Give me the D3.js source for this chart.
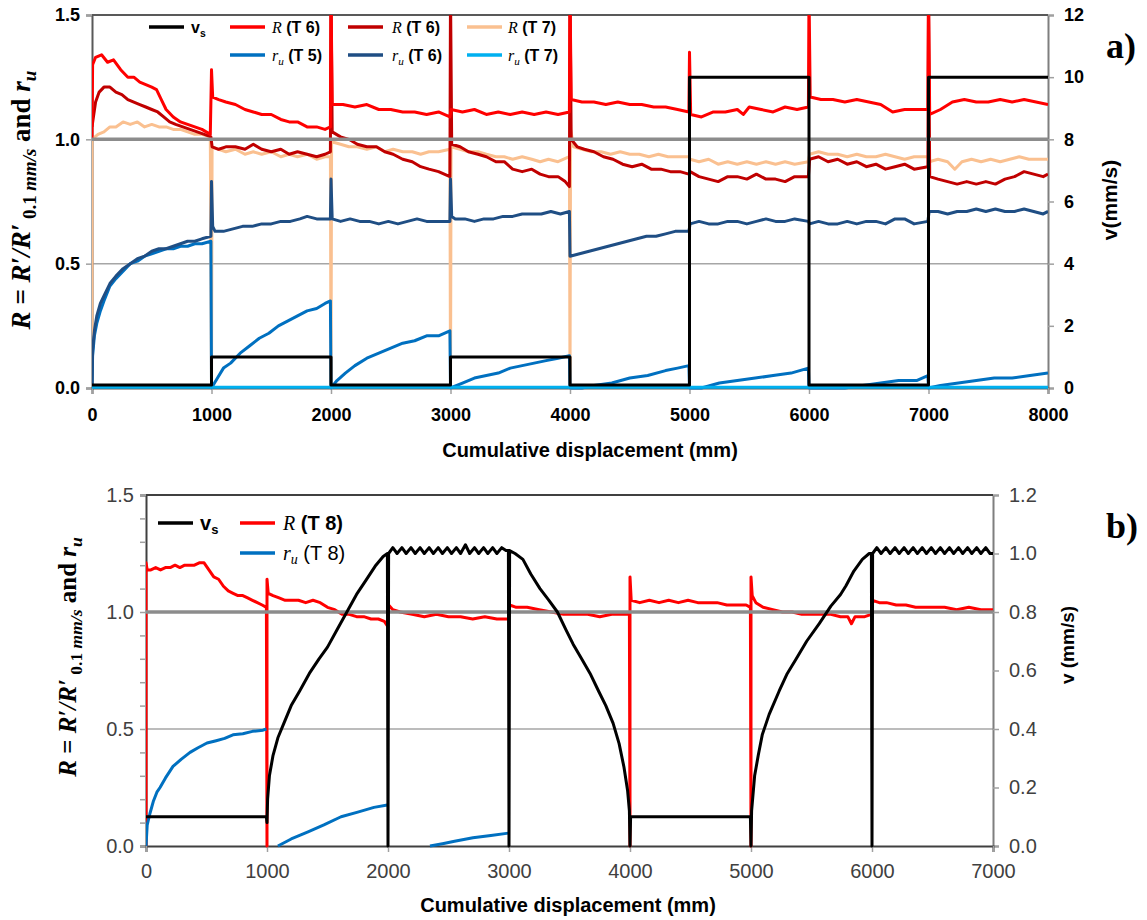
<!DOCTYPE html>
<html>
<head>
<meta charset="utf-8">
<script src="https://cdn.jsdelivr.net/npm/d3@7"></script>
<style>
  body { margin: 0; background: #fff; }
  svg { display: block; }
</style>
</head>
<body>
<svg id="chart" width="1147" height="920"></svg>
<script>
// ---------- panel a) data : [cumulative displacement (mm), value] ----------
const vsA = [[0,0.1],[1000,0.1],[1000,1],[2000,1],[2000,0.1],[3000,0.1],[3000,1],[4000,1],[4000,0.1],
  [5000,0.1],[5000,10],[6000,10],[6000,0.1],[7000,0.1],[7000,10],[8000,10]];

const rT6aA = [[0,1.0],[5,1.30],[30,1.33],[80,1.34],[130,1.31],[180,1.32],[240,1.28],[300,1.25],[350,1.25],[400,1.23],
  [450,1.22],[500,1.21],[540,1.20],[580,1.16],[620,1.12],[680,1.09],[740,1.07],[800,1.06],[860,1.05],[920,1.04],[990,1.02],
  [1000,1.28],[1010,1.17],[1060,1.16],[1120,1.15],[1200,1.14],[1280,1.12],[1350,1.11],[1420,1.10],[1500,1.10],[1580,1.08],
  [1650,1.07],[1720,1.07],[1800,1.05],[1880,1.05],[1950,1.04],[1995,1.05],
  [2000,1.6],[2010,1.14],[2100,1.14],[2200,1.13],[2300,1.14],[2400,1.12],[2500,1.12],[2600,1.11],[2700,1.11],[2800,1.10],[2900,1.11],[2995,1.09],
  [3005,1.12],[3100,1.11],[3200,1.12],[3300,1.10],[3400,1.11],[3500,1.10],[3600,1.11],[3700,1.10],[3800,1.11],[3900,1.10],[3995,1.11],
  [4000,1.6],[4010,1.16],[4100,1.15],[4200,1.15],[4300,1.14],[4400,1.15],[4500,1.14],[4600,1.14],[4700,1.13],[4800,1.13],[4900,1.12],[4995,1.11],
  [5000,1.35],[5010,1.10],[5100,1.09],[5200,1.11],[5300,1.11],[5400,1.12],[5450,1.10],[5500,1.13],[5600,1.12],[5700,1.11],[5800,1.13],[5900,1.12],[5995,1.13],
  [6000,1.6],[6010,1.17],[6100,1.16],[6200,1.16],[6300,1.15],[6400,1.16],[6500,1.15],[6600,1.14],[6700,1.11],[6800,1.12],[6900,1.12],[6995,1.12],
  [7000,1.6],[7010,1.10],[7100,1.12],[7200,1.15],[7300,1.16],[7400,1.15],[7500,1.15],[7600,1.16],[7700,1.15],[7800,1.16],[7900,1.15],[8000,1.14]];

const rT6bA = [[0,1.05],[30,1.15],[60,1.19],[100,1.21],[150,1.21],[200,1.19],[250,1.18],[300,1.16],[350,1.15],[400,1.14],[450,1.13],
  [500,1.12],[550,1.11],[600,1.09],[650,1.07],[700,1.06],[760,1.05],[820,1.04],[880,1.03],[940,1.02],[995,1.01],
  [1005,0.97],[1060,0.96],[1120,0.97],[1200,0.97],[1280,0.96],[1350,0.98],[1420,0.96],[1500,0.95],[1580,0.96],[1650,0.94],
  [1720,0.95],[1800,0.94],[1880,0.93],[1950,0.94],[1995,0.95],
  [2000,1.6],[2010,1.03],[2080,1.01],[2150,1.00],[2220,0.98],[2300,0.97],[2380,0.97],[2450,0.95],[2520,0.94],[2600,0.92],
  [2680,0.91],[2750,0.89],[2820,0.88],[2900,0.87],[2995,0.85],
  [3000,1.6],[3010,0.98],[3080,0.97],[3150,0.95],[3230,0.94],[3300,0.93],[3380,0.91],[3450,0.91],[3520,0.88],[3600,0.87],
  [3680,0.88],[3750,0.86],[3820,0.85],[3900,0.85],[3960,0.83],[3995,0.81],
  [4000,1.6],[4010,1.00],[4060,0.97],[4120,0.96],[4200,0.95],[4280,0.93],[4360,0.92],[4440,0.90],[4520,0.89],[4600,0.90],
  [4680,0.88],[4760,0.88],[4840,0.87],[4920,0.87],[4995,0.86],
  [5005,0.87],[5080,0.85],[5160,0.84],[5240,0.83],[5320,0.85],[5400,0.85],[5480,0.84],[5560,0.86],[5640,0.84],[5720,0.84],
  [5800,0.83],[5880,0.85],[5995,0.85],
  [6005,0.92],[6080,0.93],[6160,0.91],[6240,0.92],[6320,0.90],[6400,0.91],[6480,0.89],[6560,0.90],[6640,0.88],[6720,0.89],
  [6800,0.90],[6880,0.88],[6995,0.89],
  [7000,1.6],[7010,0.85],[7080,0.84],[7160,0.83],[7240,0.82],[7320,0.83],[7400,0.82],[7480,0.83],[7560,0.82],[7640,0.84],
  [7720,0.85],[7800,0.87],[7880,0.86],[7960,0.85],[8000,0.86]];

const rT7A = [[0,0],[0,1.00],[50,1.02],[100,1.03],[150,1.05],[200,1.05],[260,1.07],[320,1.06],[380,1.07],[440,1.05],[500,1.06],
  [560,1.05],[620,1.05],[680,1.04],[740,1.04],[800,1.03],[860,1.02],[920,1.02],[990,1.01],
  [1000,0],[1005,0.97],[1060,0.96],[1120,0.95],[1200,0.96],[1280,0.94],[1350,0.95],[1420,0.94],[1500,0.95],[1580,0.93],
  [1650,0.94],[1720,0.93],[1800,0.94],[1880,0.92],[1950,0.93],[1995,0.93],
  [2000,0],[2005,0.99],[2080,0.98],[2150,0.97],[2220,0.97],[2300,0.96],[2380,0.97],[2450,0.95],[2520,0.96],[2600,0.95],
  [2680,0.95],[2750,0.94],[2820,0.95],[2900,0.95],[2995,0.96],
  [3000,0],[3005,0.97],[3080,0.96],[3150,0.95],[3230,0.95],[3300,0.94],[3380,0.93],[3450,0.93],[3520,0.92],[3600,0.93],
  [3680,0.92],[3750,0.91],[3820,0.92],[3900,0.91],[3995,0.93],
  [4000,0],[4005,1.04],[4030,0.97],[4100,0.96],[4180,0.95],[4260,0.95],[4340,0.94],[4420,0.95],[4500,0.94],[4580,0.94],
  [4660,0.93],[4740,0.94],[4820,0.93],[4900,0.93],[4995,0.93],
  [5005,0.92],[5080,0.91],[5160,0.92],[5240,0.90],[5320,0.91],[5400,0.90],[5480,0.91],[5560,0.90],[5640,0.91],[5720,0.90],
  [5800,0.91],[5880,0.90],[5995,0.91],
  [6005,0.94],[6080,0.95],[6160,0.94],[6240,0.94],[6320,0.93],[6400,0.94],[6480,0.93],[6560,0.93],[6640,0.94],[6720,0.93],
  [6800,0.92],[6880,0.93],[6995,0.93],
  [7005,0.91],[7080,0.92],[7160,0.91],[7220,0.88],[7280,0.91],[7360,0.92],[7440,0.91],[7520,0.92],[7600,0.91],[7680,0.92],
  [7760,0.93],[7840,0.92],[7920,0.92],[8000,0.92]];

const ruT5A = [[0,0],[5,0.13],[20,0.21],[40,0.26],[70,0.31],[100,0.35],[150,0.41],[200,0.44],[260,0.47],[320,0.50],[380,0.51],
  [440,0.53],[500,0.54],[560,0.55],[620,0.56],[680,0.56],[740,0.57],[800,0.57],[860,0.58],[920,0.58],[995,0.59],
  [1000,0],[1050,0.04],[1100,0.08],[1160,0.10],[1240,0.14],[1320,0.17],[1400,0.20],[1480,0.22],[1560,0.25],[1640,0.27],
  [1720,0.29],[1800,0.31],[1880,0.32],[1950,0.34],[1995,0.35],
  [2000,0],[2050,0.03],[2120,0.06],[2200,0.09],[2300,0.12],[2400,0.14],[2500,0.16],[2600,0.18],[2700,0.19],[2800,0.21],[2900,0.21],[2995,0.23],
  [3000,0],[3100,0.02],[3200,0.04],[3300,0.05],[3400,0.06],[3500,0.08],[3600,0.09],[3700,0.10],[3800,0.11],[3900,0.12],[3995,0.13],
  [4000,0],[4100,0.00],[4200,0.01],[4350,0.02],[4500,0.04],[4650,0.05],[4800,0.07],[4900,0.08],[4995,0.09],
  [5000,0],[5100,0.00],[5250,0.02],[5400,0.03],[5550,0.04],[5700,0.05],[5850,0.06],[5995,0.08],
  [6000,0],[6300,0.00],[6450,0.01],[6600,0.02],[6750,0.03],[6900,0.03],[6995,0.05],
  [7000,0],[7100,0.01],[7250,0.02],[7400,0.03],[7550,0.04],[7700,0.04],[7850,0.05],[8000,0.06]];

const ruT6A = [[0,0],[5,0.15],[20,0.23],[40,0.29],[70,0.34],[100,0.37],[150,0.42],[200,0.45],[260,0.48],[320,0.50],[380,0.52],
  [440,0.53],[500,0.55],[560,0.56],[620,0.56],[680,0.57],[740,0.58],[800,0.59],[860,0.59],[920,0.60],[995,0.61],
  [1000,0.83],[1010,0.65],[1030,0.63],[1100,0.63],[1180,0.64],[1260,0.65],[1340,0.65],[1420,0.66],[1500,0.66],[1580,0.67],
  [1660,0.67],[1740,0.68],[1800,0.69],[1880,0.68],[1995,0.68],
  [2000,0.84],[2010,0.68],[2080,0.67],[2160,0.68],[2240,0.67],[2320,0.67],[2400,0.66],[2480,0.67],[2560,0.66],[2640,0.67],
  [2720,0.68],[2800,0.67],[2880,0.67],[2995,0.67],
  [3000,0.84],[3010,0.69],[3040,0.68],[3120,0.68],[3200,0.67],[3280,0.68],[3360,0.68],[3440,0.69],[3520,0.69],[3600,0.70],
  [3680,0.70],[3760,0.70],[3840,0.71],[3920,0.70],[3995,0.71],
  [4000,0.53],[4080,0.54],[4160,0.55],[4240,0.56],[4320,0.57],[4400,0.58],[4480,0.59],[4560,0.60],[4640,0.61],[4720,0.61],
  [4800,0.62],[4880,0.63],[4995,0.63],
  [5005,0.66],[5080,0.67],[5160,0.66],[5240,0.66],[5320,0.67],[5400,0.67],[5480,0.66],[5560,0.67],[5640,0.68],[5720,0.67],
  [5800,0.67],[5880,0.68],[5995,0.67],
  [6005,0.66],[6080,0.67],[6160,0.66],[6240,0.66],[6320,0.67],[6400,0.66],[6480,0.67],[6560,0.67],[6640,0.66],[6720,0.68],
  [6800,0.68],[6880,0.66],[6995,0.67],
  [7005,0.71],[7080,0.71],[7160,0.70],[7240,0.71],[7320,0.71],[7400,0.72],[7480,0.71],[7560,0.72],[7640,0.71],[7720,0.71],
  [7800,0.72],[7880,0.71],[7960,0.70],[8000,0.71]];

const ruT7A = [[0,0.003],[2000,0.003],[4000,0.003],[6000,0.003],[8000,0.003]];

// ---------- panel b) data (null = gap in the record) ----------
const vsB = [[0,0.1],[995,0.1],[1000,0.08],[1005,0.16],[1020,0.24],[1050,0.31],[1090,0.37],[1140,0.42],[1200,0.48],[1270,0.53],
  [1350,0.59],[1430,0.64],[1500,0.68],[1580,0.74],[1660,0.80],[1740,0.86],[1820,0.91],[1900,0.96],[1960,0.99],[1995,1.0],
  [2000,0],[2005,1.0],[2040,1.02],[2075,1.0],[2115,1.02],[2150,1.0],[2190,1.02],[2225,1.0],[2265,1.02],[2300,1.0],[2340,1.02],
  [2375,1.0],[2415,1.02],[2450,1.0],[2490,1.02],[2525,1.0],[2565,1.02],[2600,1.0],[2640,1.03],[2675,1.0],[2715,1.02],[2750,1.0],
  [2790,1.02],[2825,1.0],[2865,1.02],[2900,1.0],[2940,1.02],[2975,1.01],[2995,1.01],
  [3000,0],[3005,1.01],[3050,1.0],[3115,0.98],[3180,0.93],[3256,0.88],[3330,0.84],[3400,0.80],[3470,0.74],[3530,0.69],[3600,0.64],
  [3670,0.59],[3740,0.53],[3800,0.48],[3860,0.42],[3910,0.35],[3950,0.27],[3980,0.19],[3995,0.12],
  [4000,0],[4005,0.1],[4995,0.1],
  [5000,0],[5005,0.12],[5030,0.24],[5060,0.31],[5093,0.38],[5150,0.45],[5233,0.53],[5300,0.59],[5374,0.64],[5460,0.70],[5564,0.76],
  [5660,0.82],[5740,0.86],[5785,0.89],[5850,0.94],[5920,0.98],[5977,1.0],[5995,1.0],
  [6000,0],[6005,1.0],[6040,1.02],[6075,1.0],[6115,1.02],[6150,1.0],[6190,1.02],[6225,1.0],[6265,1.02],[6300,1.0],[6340,1.02],
  [6375,1.0],[6415,1.02],[6450,1.0],[6490,1.02],[6525,1.0],[6565,1.02],[6600,1.0],[6640,1.02],[6675,1.0],[6715,1.02],[6750,1.0],
  [6790,1.02],[6825,1.0],[6865,1.02],[6900,1.0],[6940,1.02],[6975,1.0],[7000,1.0]];

const rT8B = [[0,0],[0,1.21],[10,1.18],[40,1.18],[80,1.19],[120,1.18],[160,1.19],[200,1.19],[240,1.20],[280,1.19],[320,1.20],
  [360,1.20],[400,1.20],[440,1.21],[480,1.21],[520,1.18],[560,1.15],[600,1.14],[640,1.11],[680,1.09],[720,1.08],[760,1.07],
  [800,1.07],[840,1.06],[880,1.05],[920,1.04],[960,1.03],[995,1.02],
  [1000,0],[1000,1.14],[1010,1.08],[1050,1.07],[1100,1.06],[1150,1.05],[1200,1.05],[1260,1.05],[1320,1.04],[1380,1.05],[1440,1.04],
  [1500,1.02],[1560,1.01],[1620,0.99],[1680,0.99],[1740,0.98],[1800,0.98],[1860,0.97],[1920,0.97],[1970,0.96],[1995,0.94],
  [2005,1.03],[2040,1.01],[2100,1.00],[2200,0.99],[2300,0.98],[2400,0.99],[2500,0.98],[2600,0.98],[2700,0.97],[2800,0.98],[2900,0.97],[2995,0.97],
  [3005,1.03],[3060,1.02],[3150,1.02],[3250,1.01],[3350,1.00],[3450,0.99],[3550,0.99],[3650,0.99],[3750,0.98],[3850,0.99],[3950,0.99],[3995,0.99],
  [4000,0],[4000,1.15],[4010,1.05],[4080,1.04],[4160,1.05],[4240,1.04],[4320,1.05],[4400,1.04],[4480,1.05],[4560,1.04],[4640,1.04],
  [4720,1.04],[4800,1.03],[4880,1.03],[4960,1.03],[4995,1.02],
  [5000,0],[5000,1.15],[5010,1.07],[5040,1.04],[5100,1.02],[5180,1.01],[5260,1.00],[5340,1.00],[5420,0.99],[5500,0.99],[5580,0.99],
  [5660,0.99],[5740,0.98],[5800,0.98],[5830,0.95],[5860,0.98],[5940,0.98],[5995,0.99],
  [6005,1.05],[6060,1.04],[6120,1.04],[6200,1.03],[6280,1.03],[6360,1.02],[6440,1.02],[6520,1.02],[6600,1.02],[6700,1.01],[6800,1.02],[6900,1.01],[7000,1.01]];

const ruT8B = [[0,0],[10,0.09],[33,0.14],[60,0.19],[90,0.23],[116,0.25],[160,0.29],[223,0.34],[290,0.37],[364,0.40],[430,0.42],
  [504,0.44],[580,0.45],[650,0.46],[719,0.475],[800,0.48],[880,0.49],[967,0.495],[995,0.50],null,
  [1090,0],[1200,0.03],[1339,0.06],[1470,0.09],[1612,0.125],[1750,0.145],[1884,0.165],[1995,0.175],null,
  [2347,0],[2450,0.01],[2550,0.02],[2702,0.035],[2850,0.045],[2995,0.055]];

const xTicksA = d3.range(0, 8001, 1000);
const xTicksB = d3.range(0, 7001, 1000);
const yTicksL = [0, 0.5, 1.0, 1.5];
const yTicksRA = [0, 2, 4, 6, 8, 10, 12];
const yTicksRB = [0, 0.2, 0.4, 0.6, 0.8, 1.0, 1.2];

const C = {
  black: "#000000", red: "#ff0000", dark: "#c00000", peach: "#fac090",
  blue: "#0070c0", navy: "#1f4e84", cyan: "#00b0f0"
};

const svg = d3.select("#chart");

function drawPanel(p) {
  const x = d3.scaleLinear().domain([0, p.xMax]).range([p.left, p.right]);
  const y = d3.scaleLinear().domain([0, 1.5]).range([p.bottom, p.top]);
  const y2 = d3.scaleLinear().domain([0, p.vMax]).range([p.bottom, p.top]);
  const g = svg.append("g");

  g.append("clipPath").attr("id", p.id + "clip").append("rect")
    .attr("x", p.left).attr("y", p.top).attr("width", p.right - p.left).attr("height", p.bottom - p.top + 3);

  // light grid at 0.5
  g.append("line").attr("x1", p.left).attr("x2", p.right)
    .attr("y1", y(0.5)).attr("y2", y(0.5)).attr("stroke", "#a6a6a6").attr("stroke-width", 1.5);

  // axes
  const fontTick = p.boldTicks ? "bold" : "normal";
  const gl = g.append("g").attr("transform", `translate(${p.left},0)`)
    .call(d3.axisLeft(y).tickValues(p.leftTicks).tickFormat(d3.format(".1f")).tickSize(p.leftTickSize).tickPadding(6));
  const gr = g.append("g").attr("transform", `translate(${p.right},0)`)
    .call(d3.axisRight(y2).tickValues(p.rightTicks).tickFormat(p.rightFmt).tickSize(6).tickPadding(10));
  const gb = g.append("g").attr("transform", `translate(0,${p.bottom})`)
    .call(d3.axisBottom(x).tickValues(p.xTicks).tickFormat(d3.format("d")).tickSize(6).tickPadding(p.xPad));
  [gl, gr, gb].forEach((a) => {
    a.select(".domain").attr("stroke", p.axisColor).attr("stroke-width", 2);
    a.selectAll(".tick line").attr("stroke", "#a0a0a0").attr("stroke-width", 1.5);
    a.selectAll(".tick text").attr("font-family", "Liberation Sans, Arial, sans-serif")
      .attr("font-size", p.tickSize).attr("font-weight", fontTick).attr("fill", p.tickColor);
  });
  gl.selectAll(".tick text").text((d) => Math.round(d * 10) % 5 === 0 ? d3.format(".1f")(d) : "");
  gr.select(".domain").attr("stroke", "#7f7f7f");
  // top border
  g.append("line").attr("x1", p.left).attr("x2", p.right).attr("y1", p.top).attr("y2", p.top)
    .attr("stroke", p.axisColor).attr("stroke-width", 2);

  const data = g.append("g").attr("clip-path", `url(#${p.id}clip)`);
  const line = d3.line().defined((d) => d !== null).x((d) => x(d[0])).y((d) => y(d[1]));
  const line2 = d3.line().x((d) => x(d[0])).y((d) => y2(d[1]));

  p.series.forEach((s) => {
    data.append("path").datum(s.data).attr("d", line).attr("fill", "none")
      .attr("stroke", s.color).attr("stroke-width", s.w || 2.5).attr("stroke-linejoin", "round");
  });

  // reference line at 1.0
  data.append("line").attr("x1", p.left).attr("x2", p.right)
    .attr("y1", y(1)).attr("y2", y(1)).attr("stroke", "#8c8c8c").attr("stroke-width", 3.5);

  data.append("path").datum(p.vs).attr("d", line2).attr("fill", "none")
    .attr("stroke", C.black).attr("stroke-width", 3).attr("stroke-linejoin", "round");

  // left axis title
  const lt = g.append("text")
    .attr("transform", `translate(${p.yTitleX},${p.yTitleY}) rotate(-90)`)
    .attr("text-anchor", "middle").attr("font-family", "Liberation Serif, DejaVu Serif, serif")
    .attr("font-weight", "bold").attr("font-size", p.yTitleSize);
  lt.append("tspan").attr("font-style", "italic").text("R");
  lt.append("tspan").text(" = ");
  lt.append("tspan").attr("font-style", "italic").text("R′/R′");
  lt.append("tspan").attr("font-size", "0.7em").attr("dy", 6).text(" 0.1 ");
  lt.append("tspan").attr("font-size", "0.7em").attr("font-style", "italic").text("mm/s");
  lt.append("tspan").attr("dy", -6).text(" and ");
  lt.append("tspan").attr("font-style", "italic").text("r");
  lt.append("tspan").attr("font-size", "0.7em").attr("dy", 6).attr("font-style", "italic").text("u");

  // right axis title
  g.append("text").attr("transform", `translate(${p.vTitleX},${p.vTitleY}) rotate(-90)`)
    .attr("text-anchor", "middle").attr("font-family", "Liberation Sans, Arial, sans-serif")
    .attr("font-weight", "bold").attr("font-size", p.vTitleSize).text(p.vTitle);

  // x axis title
  g.append("text").attr("x", p.xTitleX).attr("y", p.xTitleY).attr("text-anchor", "middle")
    .attr("font-family", "Liberation Sans, Arial, sans-serif").attr("font-weight", "bold")
    .attr("font-size", 20).text("Cumulative displacement (mm)");

  // panel letter
  g.append("text").attr("x", 1106).attr("y", p.letterY).attr("font-family", "Liberation Serif, serif")
    .attr("font-weight", "bold").attr("font-size", 36).text(p.letter);

  // legend
  p.legend.forEach((L) => {
    g.append("line").attr("x1", L.x).attr("x2", L.x + 35).attr("y1", L.y).attr("y2", L.y)
      .attr("stroke", L.color).attr("stroke-width", 3.5);
    const t = g.append("text").attr("x", L.x + L.dx).attr("y", L.y + p.legSize * 0.36)
      .attr("font-size", p.legSize).attr("font-weight", "bold");
    if (L.kind === "v") {
      t.attr("font-family", "Liberation Sans, Arial, sans-serif").append("tspan").text("v");
      t.append("tspan").attr("font-size", "0.65em").attr("dy", 4).text("s");
    } else {
      t.append("tspan").attr("font-family", "Liberation Serif, serif").attr("font-style", "italic")
        .attr("font-weight", "normal").text(L.kind === "R" ? "R" : "r");
      if (L.kind === "r") t.append("tspan").attr("font-family", "Liberation Serif, serif")
        .attr("font-style", "italic").attr("font-weight", "normal").attr("font-size", "0.7em").attr("dy", 4).text("u");
      t.append("tspan").attr("font-family", "Liberation Sans, Arial, sans-serif")
        .attr("font-weight", L.weight || "bold").attr("dy", L.kind === "r" ? -4 : 0).text(" " + L.label);
    }
  });
}

drawPanel({
  id: "a", xMax: 8000, left: 92, right: 1048, top: 15, bottom: 388, vMax: 12,
  xTicks: xTicksA, leftTicks: yTicksL, leftTickSize: 6, rightTicks: yTicksRA, rightFmt: d3.format("d"),
  boldTicks: true, tickSize: 18, tickColor: "#000", axisColor: "#595959", xPad: 14,
  series: [
    { data: rT7A, color: C.peach, w: 3 },
    { data: rT6bA, color: C.dark, w: 3 },
    { data: rT6aA, color: C.red, w: 3 },
    { data: ruT5A, color: C.blue, w: 3 },
    { data: ruT6A, color: C.navy, w: 3 },
    { data: ruT7A, color: C.cyan, w: 3 }
  ],
  vs: vsA,
  yTitleX: 30, yTitleY: 200, yTitleSize: 27,
  vTitle: "v(mm/s)", vTitleX: 1117, vTitleY: 200, vTitleSize: 21,
  xTitleX: 590, xTitleY: 457,
  letter: "a)", letterY: 58, legSize: 16,
  legend: [
    { x: 149, y: 27, color: C.black, kind: "v", dx: 42 },
    { x: 230, y: 27, color: C.red, kind: "R", label: "(T 6)", dx: 42 },
    { x: 348, y: 27, color: C.dark, kind: "R", label: "(T 6)", dx: 44 },
    { x: 467, y: 27, color: C.peach, kind: "R", label: "(T 7)", dx: 41 },
    { x: 230, y: 55, color: C.blue, kind: "r", label: "(T 5)", dx: 42 },
    { x: 348, y: 55, color: C.navy, kind: "r", label: "(T 6)", dx: 44 },
    { x: 467, y: 55, color: C.cyan, kind: "r", label: "(T 7)", dx: 41 }
  ]
});

drawPanel({
  id: "b", xMax: 7000, left: 146, right: 993, top: 495, bottom: 846, vMax: 1.2,
  xTicks: xTicksB, leftTicks: d3.range(0, 15.5, 1).map((d) => d / 10), leftTickSize: 6,
  rightTicks: yTicksRB, rightFmt: d3.format(".1f"),
  boldTicks: false, tickSize: 20, tickColor: "#404040", axisColor: "#404040", xPad: 12,
  series: [
    { data: rT8B, color: C.red, w: 3 },
    { data: ruT8B, color: C.blue, w: 3 }
  ],
  vs: vsB,
  yTitleX: 76, yTitleY: 657, yTitleSize: 25,
  vTitle: "v (mm/s)", vTitleX: 1074, vTitleY: 645, vTitleSize: 19,
  xTitleX: 568, xTitleY: 912,
  letter: "b)", letterY: 538, legSize: 20,
  legend: [
    { x: 158, y: 523, color: C.black, kind: "v", dx: 42 },
    { x: 240, y: 523, color: C.red, kind: "R", label: "(T 8)", dx: 43 },
    { x: 240, y: 553, color: C.blue, kind: "r", label: "(T 8)", dx: 43, weight: "normal" }
  ]
});
</script>
</body>
</html>
